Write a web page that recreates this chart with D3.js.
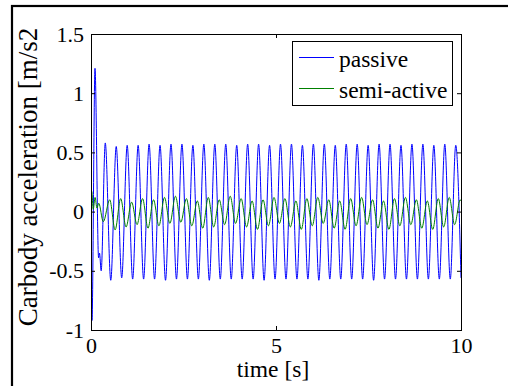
<!DOCTYPE html>
<html>
<head>
<meta charset="utf-8">
<script src="https://cdn.jsdelivr.net/npm/d3@7"></script>
<style>
  body { margin: 0; background: #fff; }
  svg { display: block; }
  svg text { font-family: "Liberation Serif", "DejaVu Serif", serif; fill: #000; }
</style>
</head>
<body>
<svg id="chart" width="508" height="386"></svg>
<script>
// ---- data ----
const seriesNames = ["passive", "semi-active"];
const seriesColors = ["#0000ff", "#008000"];
const xTicks = [0, 5, 10];
const xTickLabels = ["0", "5", "10"];
const yTicks = [-1, -0.5, 0, 0.5, 1, 1.5];
const yTickLabels = ["-1", "-0.5", "0", "0.5", "1", "1.5"];
const xLabel = "time [s]";
const yLabel = "Carbody acceleration [m/s2";

// passive suspension: time [s] of each turning point and its value [m/s2]
const passiveT = [
  0, 0.027, 0.108, 0.205, 0.23, 0.275,
  0.386, 0.534, 0.682, 0.830, 0.978, 1.126, 1.274, 1.422, 1.570, 1.718,
  1.866, 2.014, 2.162, 2.310, 2.458, 2.606, 2.754, 2.902, 3.050, 3.198,
  3.346, 3.494, 3.642, 3.790, 3.938, 4.086, 4.234, 4.382, 4.530, 4.678,
  4.826, 4.974, 5.122, 5.270, 5.418, 5.566, 5.714, 5.862, 6.010, 6.158,
  6.306, 6.454, 6.602, 6.750, 6.898, 7.046, 7.194, 7.342, 7.490, 7.638,
  7.786, 7.934, 8.082, 8.230, 8.378, 8.526, 8.674, 8.822, 8.970, 9.118,
  9.266, 9.414, 9.562, 9.710, 9.858, 10.0
];
const passiveV = [
  0.28, -0.92, 1.21, -0.39, -0.35, -0.50,
  0.58, -0.58, 0.55, -0.56, 0.56, -0.57, 0.56, -0.57, 0.57, -0.57,
  0.56, -0.58, 0.57, -0.57, 0.57, -0.57, 0.56, -0.57, 0.57, -0.58,
  0.57, -0.57, 0.57, -0.57, 0.56, -0.57, 0.57, -0.57, 0.57, -0.58,
  0.56, -0.57, 0.57, -0.57, 0.57, -0.57, 0.56, -0.57, 0.57, -0.58,
  0.57, -0.57, 0.56, -0.57, 0.57, -0.57, 0.57, -0.57, 0.56, -0.58,
  0.57, -0.57, 0.57, -0.57, 0.56, -0.57, 0.57, -0.57, 0.57, -0.57,
  0.56, -0.57, 0.57, -0.57, 0.56, -0.56
];

// semi-active suspension: time [s] of each turning point and its value [m/s2]
const semiT = [
  0, 0.02, 0.06, 0.11, 0.16, 0.21, 0.332,
  0.506, 0.652, 0.802, 0.948, 1.098, 1.244, 1.394, 1.540, 1.690, 1.836,
  1.986, 2.132, 2.282, 2.428, 2.578, 2.724, 2.874, 3.020, 3.170, 3.316,
  3.466, 3.612, 3.762, 3.908, 4.058, 4.204, 4.354, 4.500, 4.650, 4.796,
  4.946, 5.092, 5.242, 5.388, 5.538, 5.684, 5.834, 5.980, 6.130, 6.276,
  6.426, 6.572, 6.722, 6.868, 7.018, 7.164, 7.314, 7.460, 7.610, 7.756,
  7.906, 8.052, 8.202, 8.348, 8.498, 8.644, 8.794, 8.940, 9.090, 9.236,
  9.386, 9.532, 9.682, 9.828, 9.978, 10.0
];
const semiV = [
  0.04, 0.17, 0.02, 0.12, 0.03, 0.07, -0.085,
  0.10, -0.155, 0.11, -0.13, 0.08, -0.11, 0.11, -0.14, 0.10, -0.12,
  0.12, -0.10, 0.13, -0.09, 0.11, -0.12, 0.09, -0.14, 0.12, -0.13,
  0.10, -0.11, 0.13, -0.10, 0.11, -0.13, 0.09, -0.15, 0.10, -0.12,
  0.12, -0.10, 0.11, -0.13, 0.09, -0.15, 0.11, -0.12, 0.12, -0.10,
  0.10, -0.14, 0.09, -0.15, 0.11, -0.12, 0.12, -0.11, 0.10, -0.14,
  0.09, -0.15, 0.11, -0.12, 0.12, -0.11, 0.10, -0.14, 0.09, -0.15,
  0.11, -0.13, 0.12, -0.11, 0.10, 0.09
];

const series = [
  d3.zip(passiveT, passiveV),
  d3.zip(semiT, semiV)
];

// ---- layout ----
const TICK_FS = 22;
const LABEL_FS = 23.5;
const box = { left: 91, right: 461, top: 34, bottom: 330 };

const svg = d3.select("#chart");

const x = d3.scaleLinear().domain([0, 10]).range([box.left, box.right]);
const y = d3.scaleLinear().domain([-1, 1.5]).range([box.bottom, box.top]);

// figure frame
svg.append("rect")
  .attr("x", 12).attr("y", 6)
  .attr("width", 620).attr("height", 520)
  .attr("fill", "none").attr("stroke", "#000").attr("stroke-width", 2.2);

// clip region for the traces
svg.append("defs").append("clipPath").attr("id", "plotClip")
  .append("rect")
  .attr("x", box.left).attr("y", box.top)
  .attr("width", box.right - box.left).attr("height", box.bottom - box.top);

// traces
const line = d3.line()
  .x(d => x(d[0]))
  .y(d => y(d[1]))
  .curve(d3.curveMonotoneX);

svg.append("g").attr("clip-path", "url(#plotClip)")
  .selectAll("path")
  .data(series)
  .join("path")
  .attr("d", line)
  .attr("fill", "none")
  .attr("stroke", (d, i) => seriesColors[i])
  .attr("stroke-width", 1)
  .attr("stroke-linejoin", "round");

// axes with inward ticks
function styleAxis(g) {
  g.select(".domain").remove();
  g.selectAll(".tick line").attr("stroke", "#000");
  g.attr("font-family", null).attr("font-size", TICK_FS);
}

svg.append("g")
  .attr("transform", `translate(${box.left},0)`)
  .call(d3.axisLeft(y).tickValues(yTicks)
    .tickFormat((d, i) => yTickLabels[i]).tickSize(-4).tickPadding(7))
  .call(styleAxis);

svg.append("g")
  .attr("transform", `translate(${box.right},0)`)
  .call(d3.axisRight(y).tickValues(yTicks).tickFormat("").tickSize(-4))
  .call(styleAxis);

svg.append("g")
  .attr("transform", `translate(0,${box.bottom})`)
  .call(d3.axisBottom(x).tickValues(xTicks)
    .tickFormat((d, i) => xTickLabels[i]).tickSize(-4).tickPadding(7))
  .call(styleAxis);

svg.append("g")
  .attr("transform", `translate(0,${box.top})`)
  .call(d3.axisTop(x).tickValues(xTicks).tickFormat("").tickSize(-4))
  .call(styleAxis);

// axes box
svg.append("rect")
  .attr("x", box.left + 0.5).attr("y", box.top + 0.5)
  .attr("width", box.right - box.left).attr("height", box.bottom - box.top)
  .attr("fill", "none").attr("stroke", "#000").attr("stroke-width", 1);

// axis titles
svg.append("text")
  .attr("x", (box.left + box.right) / 2 - 3).attr("y", 377)
  .attr("text-anchor", "middle")
  .attr("font-size", LABEL_FS)
  .text(xLabel);

svg.append("text")
  .attr("transform", `translate(37,177) rotate(-90)`)
  .attr("text-anchor", "middle")
  .attr("font-size", 27)
  .text(yLabel);

// legend
const legend = svg.append("g");
legend.append("rect")
  .attr("x", 292.5).attr("y", 41.5)
  .attr("width", 160).attr("height", 64)
  .attr("fill", "#fff").attr("stroke", "#000").attr("stroke-width", 1);

const rows = legend.selectAll("g.row")
  .data(seriesNames)
  .join("g")
  .attr("class", "row")
  .attr("transform", (d, i) => `translate(0,${57.5 + i * 31})`);

rows.append("line")
  .attr("x1", 299).attr("x2", 334)
  .attr("stroke", (d, i) => seriesColors[i])
  .attr("stroke-width", 1);

rows.append("text")
  .attr("x", 339).attr("y", 9)
  .attr("font-size", LABEL_FS)
  .text(d => d);
</script>
</body>
</html>
